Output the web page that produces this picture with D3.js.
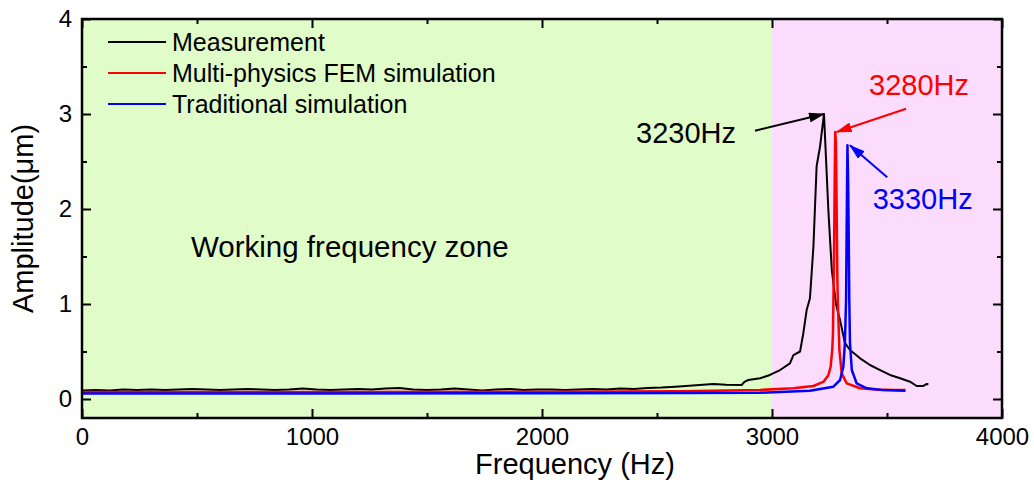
<!DOCTYPE html>
<html>
<head>
<meta charset="utf-8">
<script src="https://cdn.jsdelivr.net/npm/d3@7/dist/d3.min.js"></script>
<style>
  body { margin: 0; background: #fff; }
  svg text { font-family: Arial, "Liberation Sans", sans-serif; }
</style>
</head>
<body>
<div id="chart"></div>
<script>
// measured and simulated amplitude curves, [frequency Hz, amplitude um]
var measurement = [[0,0.09],[60,0.095],[120,0.09],[180,0.1],[240,0.095],[300,0.1],[360,0.095],[420,0.1],[480,0.105],[540,0.1],[600,0.095],[660,0.1],[720,0.105],[780,0.1],[840,0.095],[900,0.1],[960,0.11],[1020,0.1],[1080,0.095],[1140,0.1],[1200,0.105],[1260,0.1],[1320,0.11],[1380,0.115],[1440,0.1],[1500,0.095],[1560,0.1],[1620,0.11],[1680,0.1],[1740,0.09],[1800,0.1],[1860,0.105],[1920,0.095],[1980,0.1],[2040,0.1],[2100,0.095],[2160,0.1],[2220,0.105],[2280,0.1],[2340,0.11],[2400,0.105],[2460,0.115],[2520,0.12],[2580,0.13],[2640,0.14],[2700,0.15],[2745,0.158],[2800,0.15],[2868,0.147],[2880,0.18],[2897,0.2],[2948,0.218],[2991,0.253],[3035,0.305],[3078,0.375],[3093,0.463],[3122,0.5],[3136,0.69],[3151,0.94],[3165,1.06],[3180,1.6],[3194,2.45],[3209,2.66],[3226,3.0],[3245,1.99],[3260,1.36],[3278,1.0],[3296,0.83],[3317,0.59],[3339,0.516],[3383,0.428],[3426,0.358],[3470,0.305],[3513,0.253],[3557,0.218],[3600,0.182],[3629,0.137],[3658,0.137],[3673,0.158],[3680,0.155]];
var femSim = [[0,0.075],[1000,0.075],[2000,0.077],[2600,0.082],[2948,0.095],[3093,0.113],[3180,0.137],[3223,0.18],[3245,0.25],[3255,0.34],[3262,0.52],[3265,0.69],[3267,1.04],[3270,1.6],[3273,2.4],[3275,2.81],[3278,2.7],[3281,2.0],[3284,1.3],[3286,1.04],[3293,0.52],[3303,0.27],[3325,0.165],[3383,0.113],[3450,0.1],[3528,0.095],[3580,0.095]];
var tradSim = [[0,0.058],[1000,0.058],[2000,0.06],[2600,0.063],[2948,0.066],[3165,0.087],[3267,0.13],[3296,0.2],[3310,0.34],[3317,0.59],[3322,1.04],[3325,1.9],[3328,2.67],[3331,2.3],[3334,1.6],[3336,1.04],[3339,0.59],[3347,0.305],[3368,0.165],[3412,0.113],[3480,0.095],[3580,0.087]];

var seriesNames = ["Measurement", "Multi-physics FEM simulation", "Traditional simulation"];
var seriesColors = ["#000000", "#ff0000", "#0000ff"];

var zones = [[0, 3000, "#e0fcc8"], [3000, 4000, "#fcdcfc"]];
var xTicks = [0, 1000, 2000, 3000, 4000];
var xMinor = [500, 1500, 2500, 3500];
var yTicks = [0, 1, 2, 3, 4];
var yMinor = [0.5, 1.5, 2.5, 3.5];

// peak callouts: label position, arrow tail, arrow head (data units)
var callouts = [
  { text: "3230Hz", color: "#000000", at: [2409, 2.695], from: [2926, 2.824], to: [3226, 3.0] },
  { text: "3280Hz", color: "#ff0000", at: [3422, 3.2], from: [3583, 3.056], to: [3281, 2.81] },
  { text: "3330Hz", color: "#0000ff", at: [3438, 2.0], from: [3501, 2.334], to: [3339, 2.67] }
];

var width = 1034, height = 486;
var margin = { top: 19, right: 32, bottom: 68, left: 82 };
var w = width - margin.left - margin.right,
  h = height - margin.top - margin.bottom;

var svg = d3.select("#chart").append("svg").attr("width", width).attr("height", height);
var g = svg.append("g").attr("transform", "translate(" + margin.left + "," + margin.top + ")");

var x = d3.scaleLinear().domain([0, 4000]).range([0, w]);
var y = d3.scaleLinear().domain([-0.2, 4]).range([h, 0]);

g.selectAll("rect.zone")
  .data(zones)
  .enter()
  .append("rect")
  .attr("class", "zone")
  .attr("x", function (d) { return x(d[0]); })
  .attr("width", function (d) { return x(d[1]) - x(d[0]); })
  .attr("y", 0)
  .attr("height", h)
  .attr("fill", function (d) { return d[2]; });

var line = d3.line()
  .x(function (d) { return x(d[0]); })
  .y(function (d) { return y(d[1]); });

var allSeries = [measurement, femSim, tradSim];
var widths = [2, 2.5, 2.5];
g.selectAll("path.series")
  .data(allSeries)
  .enter()
  .append("path")
  .attr("class", "series")
  .attr("d", line)
  .attr("fill", "none")
  .attr("stroke", function (d, i) { return seriesColors[i]; })
  .attr("stroke-width", function (d, i) { return widths[i]; })
  .attr("stroke-linejoin", "round");

// axes, ticks pointing inward, mirrored on top and right
function styleAxis(sel) {
  sel.selectAll(".domain").remove();
  sel.selectAll("line").attr("stroke", "#000").attr("stroke-width", 2);
  sel.selectAll("text").attr("font-size", 24).attr("fill", "#000");
}
g.append("g").attr("transform", "translate(0," + h + ")")
  .call(d3.axisBottom(x).tickValues(xTicks).tickSize(-9).tickPadding(10).tickFormat(d3.format("d")))
  .call(styleAxis);
g.append("g").attr("transform", "translate(0," + h + ")")
  .call(d3.axisBottom(x).tickValues(xMinor).tickSize(-5).tickFormat(""))
  .call(styleAxis);
g.append("g")
  .call(d3.axisTop(x).tickValues(xTicks).tickSize(-9).tickFormat(""))
  .call(styleAxis);
g.append("g")
  .call(d3.axisTop(x).tickValues(xMinor).tickSize(-5).tickFormat(""))
  .call(styleAxis);
g.append("g")
  .call(d3.axisLeft(y).tickValues(yTicks).tickSize(-9).tickPadding(10).tickFormat(d3.format("d")))
  .call(styleAxis);
g.append("g")
  .call(d3.axisLeft(y).tickValues(yMinor).tickSize(-5).tickFormat(""))
  .call(styleAxis);
g.append("g").attr("transform", "translate(" + w + ",0)")
  .call(d3.axisRight(y).tickValues(yTicks).tickSize(-9).tickFormat(""))
  .call(styleAxis);
g.append("g").attr("transform", "translate(" + w + ",0)")
  .call(d3.axisRight(y).tickValues(yMinor).tickSize(-5).tickFormat(""))
  .call(styleAxis);

g.append("rect")
  .attr("width", w)
  .attr("height", h)
  .attr("fill", "none")
  .attr("stroke", "#000")
  .attr("stroke-width", 2.5);

// legend
var legend = g.append("g").attr("transform", "translate(26,23)");
seriesNames.forEach(function (name, i) {
  var row = legend.append("g").attr("transform", "translate(0," + i * 31 + ")");
  row.append("line").attr("x1", 0).attr("x2", 58)
    .attr("stroke", seriesColors[i]).attr("stroke-width", 2);
  row.append("text").attr("x", 64).attr("dy", "0.36em")
    .attr("font-size", 25).text(name);
});

g.append("text")
  .attr("x", x(474))
  .attr("y", y(1.5))
  .attr("font-size", 29.5)
  .text("Working frequency zone");

// arrows
var defs = svg.append("defs");
callouts.forEach(function (c, i) {
  defs.append("marker")
    .attr("id", "arrow" + i)
    .attr("viewBox", "0 -5 16 10")
    .attr("refX", 15)
    .attr("refY", 0)
    .attr("markerUnits", "userSpaceOnUse")
    .attr("markerWidth", 16)
    .attr("markerHeight", 10)
    .attr("orient", "auto")
    .append("path")
    .attr("d", "M0,-5L16,0L0,5Z")
    .attr("fill", c.color);
  g.append("line")
    .attr("x1", x(c.from[0])).attr("y1", y(c.from[1]))
    .attr("x2", x(c.to[0])).attr("y2", y(c.to[1]))
    .attr("stroke", c.color)
    .attr("stroke-width", 2)
    .attr("marker-end", "url(#arrow" + i + ")");
  g.append("text")
    .attr("x", x(c.at[0]))
    .attr("y", y(c.at[1]))
    .attr("font-size", 29)
    .attr("fill", c.color)
    .text(c.text);
});

// axis titles
svg.append("text")
  .attr("x", 575)
  .attr("y", 474)
  .attr("text-anchor", "middle")
  .attr("font-size", 29)
  .text("Frequency (Hz)");
svg.append("text")
  .attr("transform", "translate(33," + (margin.top + h / 2) + ") rotate(-90)")
  .attr("text-anchor", "middle")
  .attr("font-size", 29)
  .text("Amplitude(μm)");
</script>
</body>
</html>
